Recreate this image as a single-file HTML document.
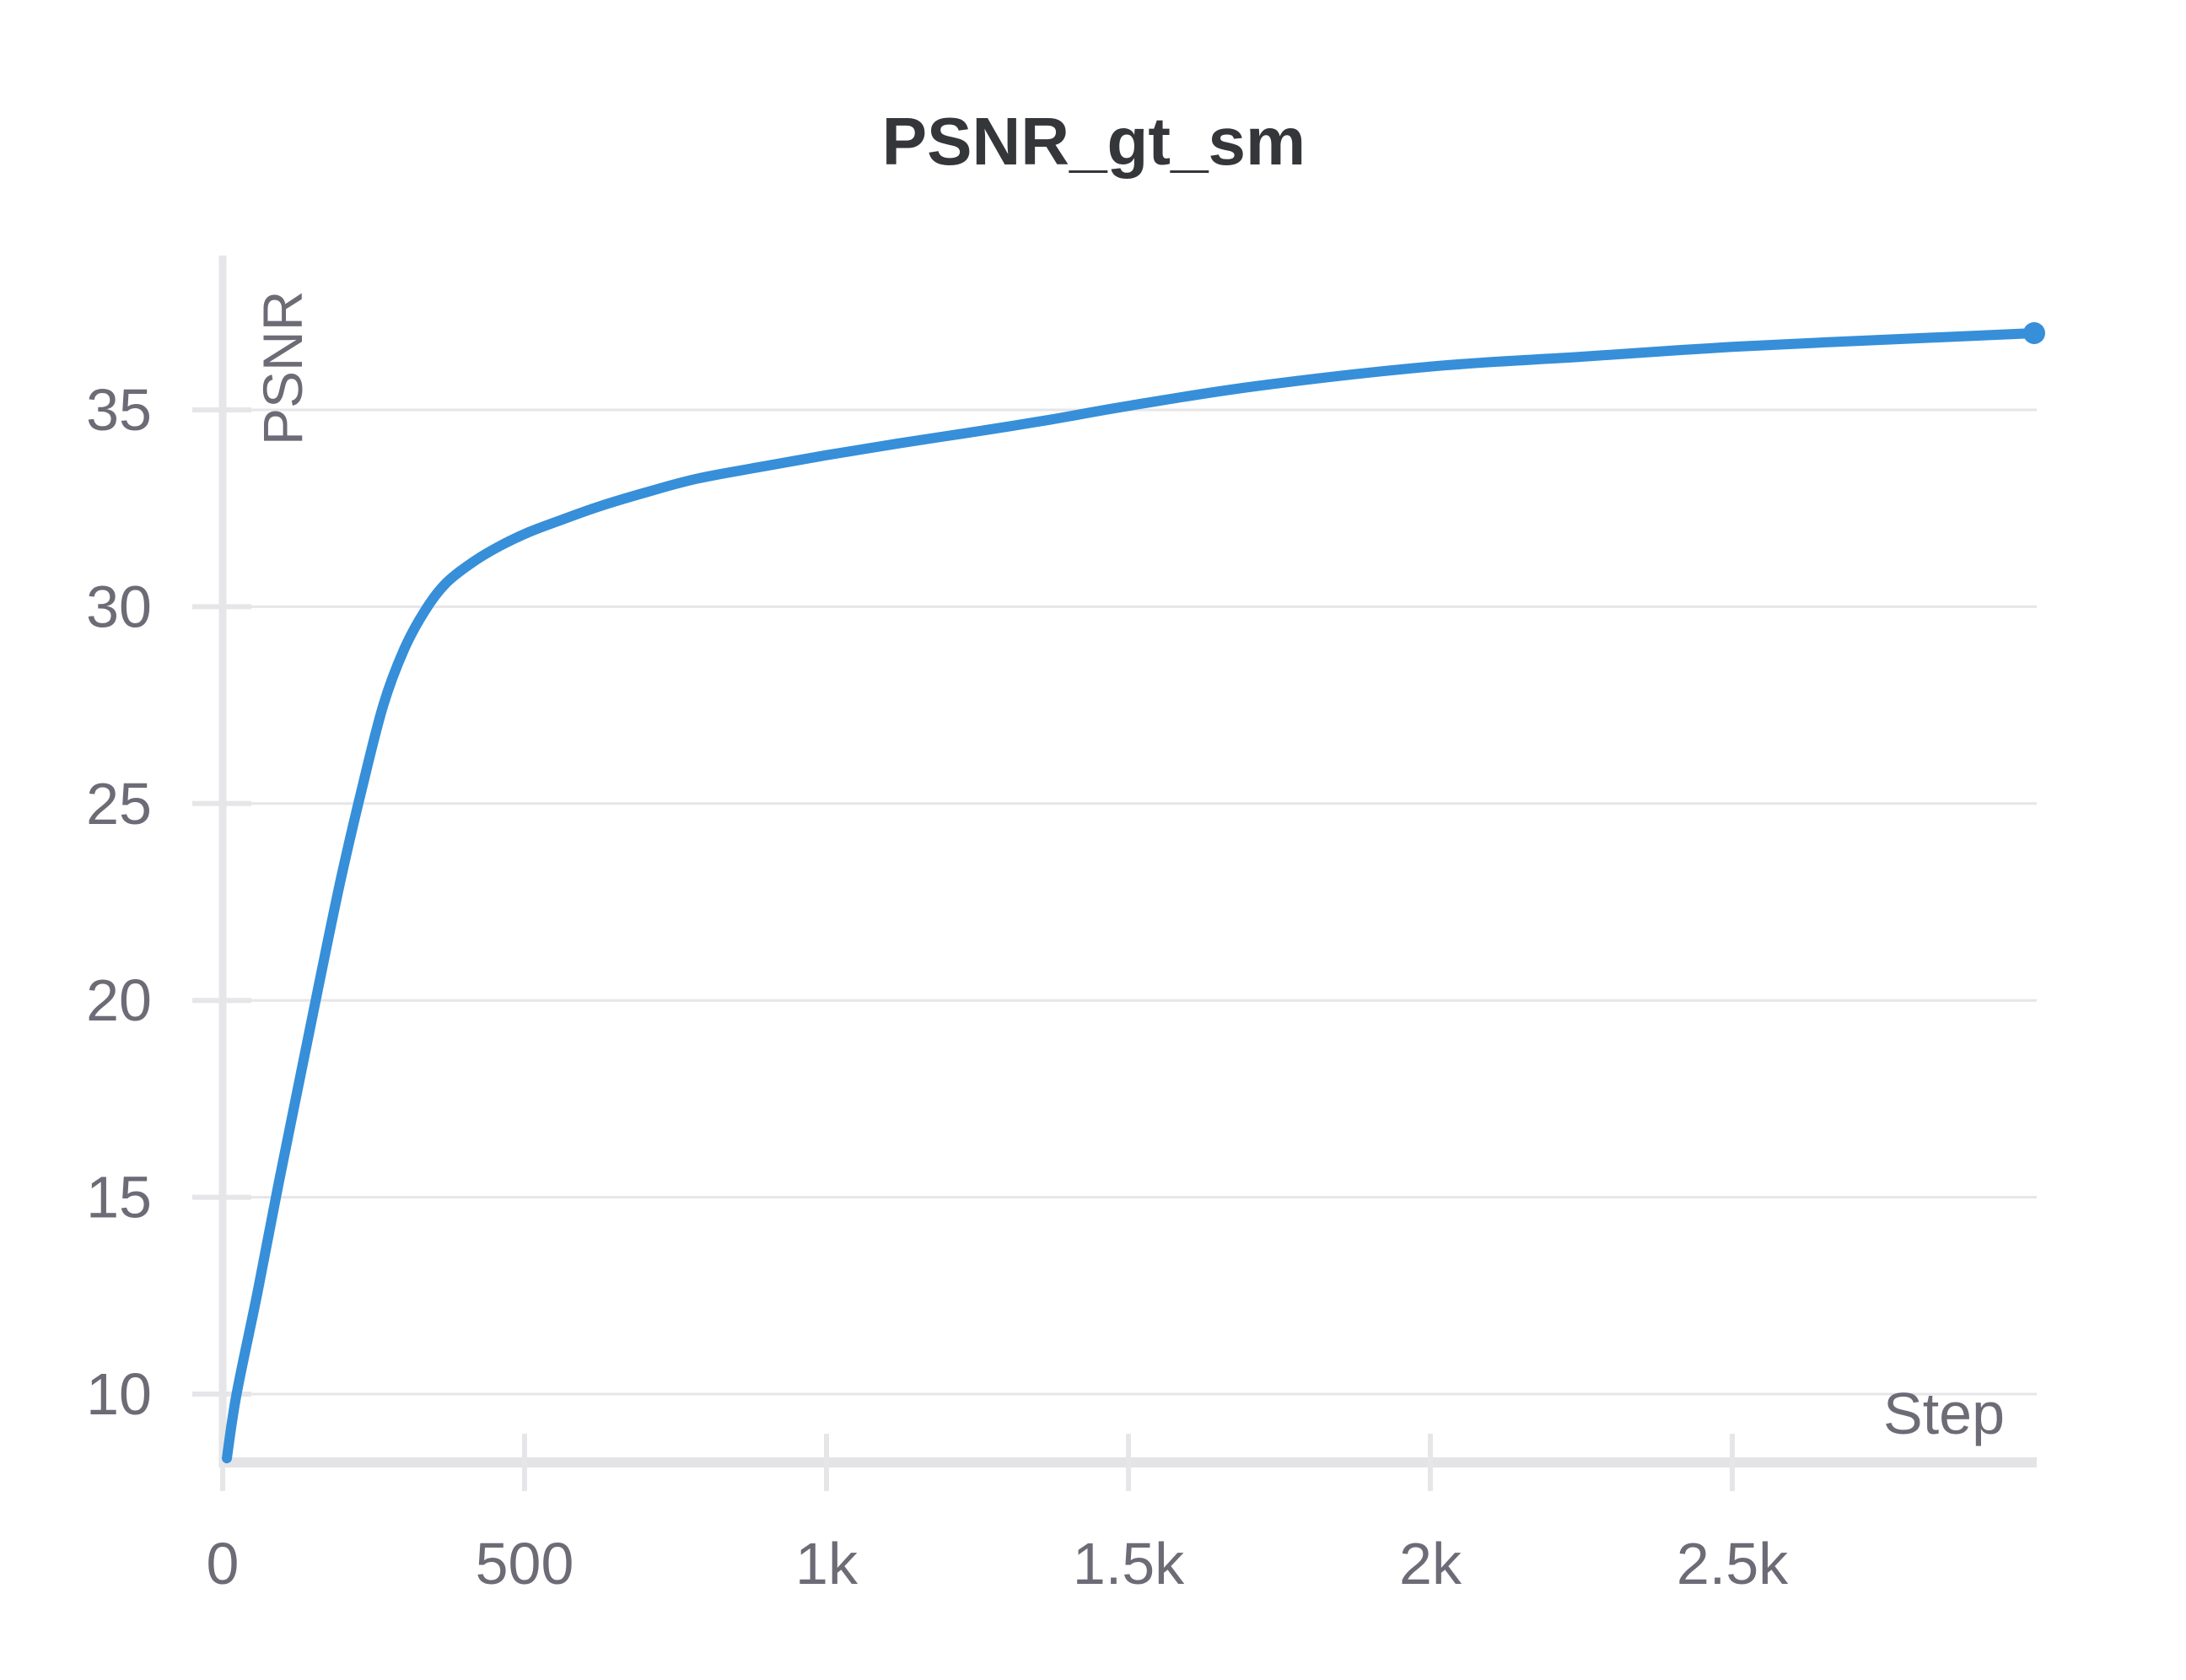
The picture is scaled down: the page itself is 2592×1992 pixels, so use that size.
<!DOCTYPE html>
<html><head><meta charset="utf-8"><style>
html,body{margin:0;padding:0;background:#fff;}
svg{display:block;font-family:"Liberation Sans",sans-serif;}
</style></head><body>
<svg id="chart" width="2592" height="1992" viewBox="0 0 2592 1992" xmlns="http://www.w3.org/2000/svg">
<rect width="2592" height="1992" fill="#fff"/>
<text x="1297" y="195" text-anchor="middle" font-size="80" font-weight="bold" fill="#35363a">PSNR_gt_sm</text>
<g id="grid"></g>
<g id="axes"></g>
<g id="series"></g>
<text transform="translate(358,528) rotate(-90)" font-size="66" fill="#6c6b76">PSNR</text>
<text x="2377" y="1700" text-anchor="end" font-size="70" fill="#6c6b76">Step</text>
</svg>
<script>
const steps = [7,23,58,92,127,162,196,231,266,300,335,370,416,460,508,560,624,700,785,890,1000,1120,1248,1370,1500,1710,2000,2250,2500,2750,3000];
const psnr = [8.37,10,12.6,15.3,17.95,20.6,23.1,25.4,27.5,28.9,29.9,30.6,31.15,31.55,31.9,32.2,32.55,32.9,33.25,33.55,33.85,34.15,34.45,34.75,35.1,35.6,36.1,36.35,36.6,36.78,36.95];
const xTicks = [0,500,1000,1500,2000,2500];
const xTickLabels = ["0","500","1k","1.5k","2k","2.5k"];
const yTicks = [10,15,20,25,30,35];
const yTickLabels = ["10","15","20","25","30","35"];

const NS="http://www.w3.org/2000/svg";
const X = s => 264 + s*(358/500);
const Y = v => 1653 - (v-10)*(233.4/5);
function mk(tag, attrs, parent){const e=document.createElementNS(NS,tag);for(const k in attrs)e.setAttribute(k,attrs[k]);parent.appendChild(e);return e;}
const grid=document.getElementById('grid'), axes=document.getElementById('axes'), series=document.getElementById('series');

yTicks.forEach((v,i)=>{
  const g=mk('line',{x1:264,x2:2415,y1:Y(v),y2:Y(v),stroke:'#e6e6e9','stroke-width':3},grid);
  
  
  const t=mk('line',{x1:228,x2:298,y1:Y(v),y2:Y(v),stroke:'#e6e6e9','stroke-width':6},axes);
  
  
  const l=mk('text',{x:180,y:Y(v)+24,'text-anchor':'end','font-size':70,fill:'#6c6b76'},axes);
  l.textContent=yTickLabels[i];
  
  
});
const ya=mk('line',{x1:264,x2:264,y1:303,y2:1740,stroke:'#e6e6e9','stroke-width':9},axes);


const xa=mk('line',{x1:260,x2:2415,y1:1734,y2:1734,stroke:'#e4e4e7','stroke-width':12},axes);


xTicks.forEach((s,i)=>{
  const t=mk('line',{x1:X(s),x2:X(s),y1:1700,y2:1768,stroke:'#e6e6e9','stroke-width':6},axes);
  
  
  const l=mk('text',{x:X(s),y:1878,'text-anchor':'middle','font-size':70,fill:'#6c6b76'},axes);
  l.textContent=xTickLabels[i];
  
  
});
// Catmull-Rom smoothing through data points
const P=steps.map((s,i)=>[X(s),Y(psnr[i])]);
let d='M'+P[0][0].toFixed(1)+' '+P[0][1].toFixed(1);
for(let i=0;i<P.length-1;i++){
  const p0=P[Math.max(0,i-1)],p1=P[i],p2=P[i+1],p3=P[Math.min(P.length-1,i+2)];
  const c1=[p1[0]+(p2[0]-p0[0])/6,p1[1]+(p2[1]-p0[1])/6];
  const c2=[p2[0]-(p3[0]-p1[0])/6,p2[1]-(p3[1]-p1[1])/6];
  d+=' C'+c1[0].toFixed(1)+' '+c1[1].toFixed(1)+' '+c2[0].toFixed(1)+' '+c2[1].toFixed(1)+' '+p2[0].toFixed(1)+' '+p2[1].toFixed(1);
}
const p=mk('path',{d:d,fill:'none',stroke:'#368fd8','stroke-width':12,'stroke-linejoin':'round','stroke-linecap':'round'},series);


const n=steps.length-1;
const c=mk('circle',{cx:X(steps[n]),cy:Y(psnr[n]),r:13,fill:'#368fd8'},series);


</script>
</body></html>
